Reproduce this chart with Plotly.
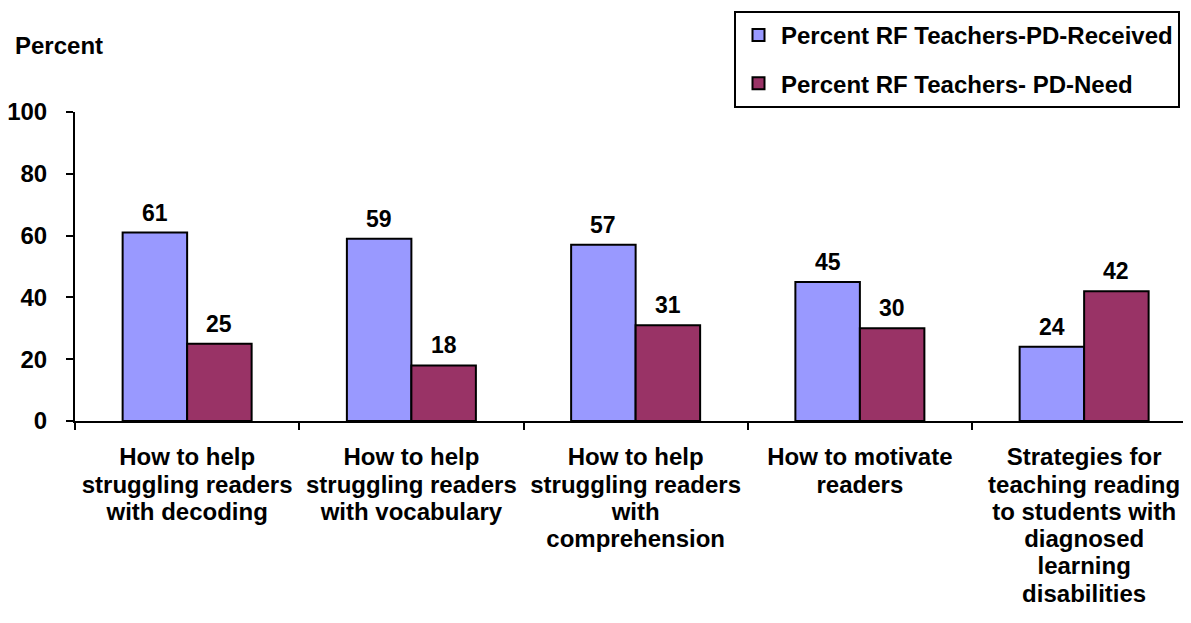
import plotly.graph_objects as go

categories = [
    "How to help<br>struggling readers<br>with decoding",
    "How to help<br>struggling readers<br>with vocabulary",
    "How to help<br>struggling readers<br>with<br>comprehension",
    "How to motivate<br>readers",
    "Strategies for<br>teaching reading<br>to students with<br>diagnosed<br>learning<br>disabilities",
]
received = [61, 59, 57, 45, 24]
need = [25, 18, 31, 30, 42]
series_names = ["Percent RF Teachers-PD-Received", "Percent RF Teachers- PD-Need"]
y_ticks = [0, 20, 40, 60, 80, 100]

FONT = "Liberation Sans, Arial, sans-serif"
TXT = 24
DL = 23
BLUE = "#9999FF"
MAROON = "#993366"

# page body has an 8px default margin; the figure is sized/offset to compensate
OFF = 8
W, H = 1191 - OFF, 623 - OFF
ML, MT, MR = 75 - OFF, 112 - OFF, 0
MB = H - MT - 309
PW, PH = W - ML - MR, H - MT - MB
cat_px = 224.25
bar_w = 64.5 / cat_px

x_idx = list(range(len(categories)))
x_max = -0.5 + PW / cat_px


def big_lines(s):
    return "<br>".join(f"<span style='font-size:{TXT}px'>{p}</span>" for p in s.split("<br>"))


fig = go.Figure()
fig.add_trace(go.Bar(
    x=x_idx, y=received, name=series_names[0], offset=-bar_w, width=bar_w,
    marker=dict(color=BLUE, line=dict(color="black", width=2)),
    legendgroup="a",
))
fig.add_trace(go.Bar(
    x=x_idx, y=need, name=series_names[1], offset=0, width=bar_w,
    marker=dict(color=MAROON, line=dict(color="black", width=2)),
    legendgroup="b",
))
# invisible trace for category boundary ticks on overlay axis
fig.add_trace(go.Scatter(x=[-0.5], y=[0], xaxis="x2", mode="markers",
                         marker=dict(opacity=0), showlegend=False, hoverinfo="skip"))

annotations = []
for i, v in enumerate(received):
    annotations.append(dict(x=i - bar_w / 2, y=v, text=f"<b>{v}</b>", showarrow=False,
                            yanchor="bottom", yshift=5, font=dict(size=DL, color="black", family=FONT)))
for i, v in enumerate(need):
    annotations.append(dict(x=i + bar_w / 2, y=v, text=f"<b>{v}</b>", showarrow=False,
                            yanchor="bottom", yshift=5, font=dict(size=DL, color="black", family=FONT)))
annotations.append(dict(xref="paper", yref="paper", x=(13 - OFF - ML) / PW, y=(MT + PH - (45 - OFF)) / PH,
                        xanchor="left", yanchor="middle", text="<b>Percent</b>", showarrow=False,
                        font=dict(size=TXT, color="black", family=FONT)))

fig.update_layout(
    width=W, height=H,
    margin=dict(l=ML, r=MR, t=MT, b=MB, pad=0, autoexpand=False),
    paper_bgcolor="white", plot_bgcolor="white",
    font=dict(family=FONT, color="black", size=TXT, weight="bold"),
    showlegend=True,
    legend=dict(
        xref="container", yref="container", x=(734 - OFF) / W, y=1 - (11 - OFF) / H,
        xanchor="left", yanchor="top",
        bordercolor="black", borderwidth=2, bgcolor="white",
        font=dict(size=TXT, family=FONT, color="black", weight="bold"),
        traceorder="grouped", tracegroupgap=14,
        itemwidth=35, entrywidth=414, entrywidthmode="pixels",
    ),
    xaxis=dict(
        range=[-0.5, x_max], tickmode="array", tickvals=x_idx,
        ticktext=[big_lines(c) for c in categories], tickangle=0,
        ticks="", showline=True, linecolor="black", linewidth=2,
        showgrid=False, zeroline=False, ticklabelstandoff=17,
        tickfont=dict(size=21, family=FONT, color="black", weight="bold"),
    ),
    xaxis2=dict(
        range=[-0.5, x_max], overlaying="x", side="bottom",
        tickmode="array", tickvals=[i - 0.5 for i in range(len(categories) + 1)],
        ticks="outside", ticklen=8, tickwidth=2, tickcolor="black",
        showticklabels=False, showline=False, showgrid=False, zeroline=False,
    ),
    yaxis=dict(
        range=[0, 100], tickmode="array", tickvals=y_ticks,
        ticks="outside", ticklen=7, tickwidth=2, tickcolor="black",
        showline=True, linecolor="black", linewidth=2, showgrid=False, zeroline=False,
        ticklabelstandoff=14,
        tickfont=dict(size=TXT, family=FONT, color="black", weight="bold"),
    ),
    annotations=annotations,
)

fig.write_html("out.html")
